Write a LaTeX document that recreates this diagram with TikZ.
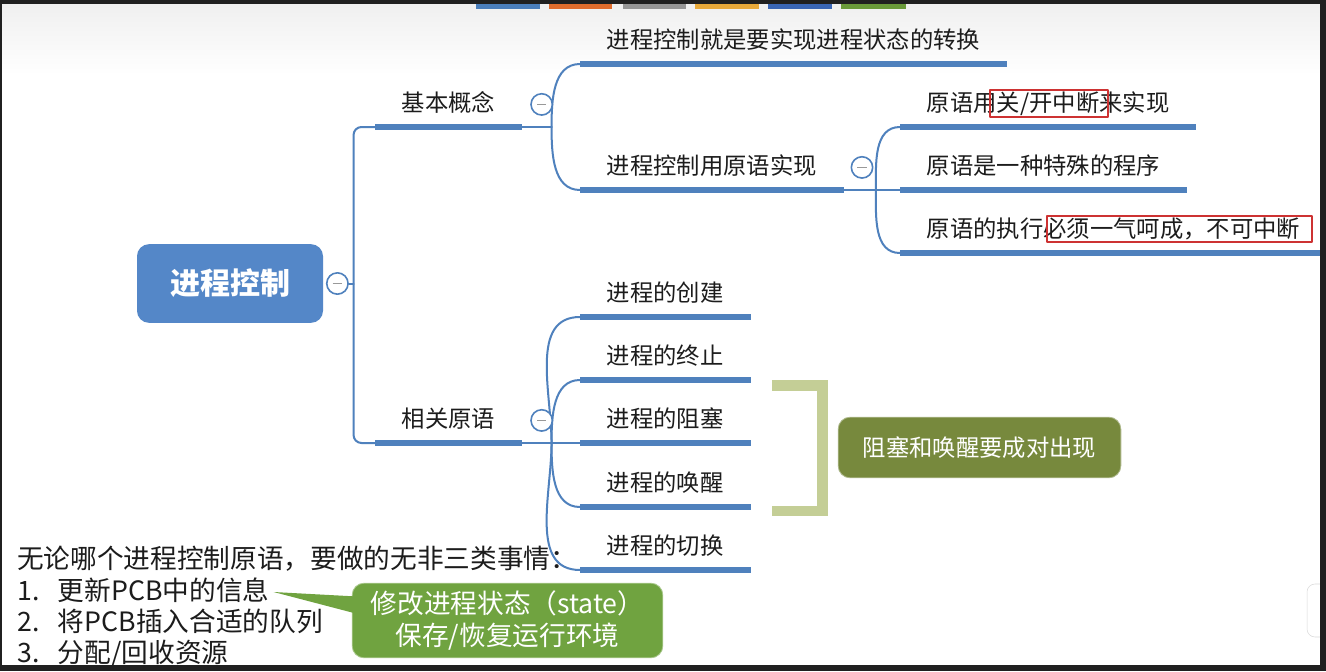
\documentclass[tikz,border=0pt]{standalone}
\usepackage{fontspec}
\setmainfont{Noto Sans CJK SC}
\usetikzlibrary{positioning}
\definecolor{mapblue}{RGB}{79,129,189}
\definecolor{rootblue}{RGB}{84,135,200}
\definecolor{braceolive}{RGB}{196,206,150}
\definecolor{noteolive}{RGB}{119,137,61}
\definecolor{callgreen}{RGB}{112,163,64}
\definecolor{framedark}{RGB}{32,32,32}
\definecolor{ink}{RGB}{28,28,28}
\definecolor{markred}{RGB}{205,50,50}
\definecolor{tabblue}{RGB}{74,126,187}
\definecolor{taborange}{RGB}{224,108,44}
\definecolor{tabgray}{RGB}{150,150,150}
\definecolor{tabyellow}{RGB}{232,169,58}
\definecolor{tabnavy}{RGB}{58,102,181}
\definecolor{tabgreen}{RGB}{106,154,58}
\begin{document}
\begin{tikzpicture}[x=0.75pt, y=-0.75pt, line join=round, line cap=round,
	topic/.style={anchor=south west, inner xsep=20pt, inner ysep=8pt, text height=14pt, text depth=3.5pt, text=ink, font=\fontsize{17.5}{21}\selectfont},
	uline/.style={mapblue, line width=5pt, line cap=butt},
	link/.style={mapblue, line width=1.5pt},
	fold/.style={circle, draw=mapblue, line width=1.2pt, fill=white, minimum size=16pt, inner sep=0pt,
		path picture={\draw[gray!80, line width=1.2pt, line cap=butt] ([xshift=-3.5pt]path picture bounding box.center) -- ([xshift=3.5pt]path picture bounding box.center);}},
	root/.style={fill=rootblue, rounded corners=9pt, minimum width=139.5pt, minimum height=59pt, text=white, font=\fontsize{22.5}{27}\selectfont\bfseries},
	note/.style={fill=noteolive, draw=noteolive!60!white, line width=0.6pt, rounded corners=9pt, minimum width=212pt, minimum height=45.5pt, text=white, font=\fontsize{17.5}{21}\selectfont},
	callout/.style={fill=callgreen, draw=callgreen!60!white, line width=0.6pt, rounded corners=9pt, minimum width=233pt, minimum height=56pt, align=center, text=white, font=\fontsize{20}{23.5}\selectfont},
	say/.style={anchor=west, inner sep=0pt, text height=16pt, text depth=4pt, text=ink, font=\fontsize{20}{24}\selectfont},
	brace/.style={braceolive, line width=8pt, line cap=butt, line join=miter}]
	% screen frame
	\useasboundingbox (0,0) rectangle (1326,671);
	\fill[framedark] (0,0) rectangle (1326,671);
	\fill[white] (2,4) rectangle (1320,665);
	\shade[top color=gray!12, bottom color=white] (2,4) rectangle (1320,75);
	\foreach \xa/\xb/\col in {476/540/tabblue, 549/612/taborange, 623/686/tabgray, 695/759/tabyellow, 768/832/tabnavy, 841/906/tabgreen}
		\fill[\col] (\xa,4) rectangle (\xb,9);
	\draw[gray!30, fill=white, rounded corners=6pt] (1307,584) rectangle (1334,637);
	
	\node[root] (root) at (230,283.5) {进程控制};
	\node[fold, right=2pt of root] (f0) {};
	\coordinate[right=3.5pt of f0] (j0);
	
	\node[topic] (k1) at (375,127) {基本概念};
	\node[topic] (k2) at (375,443) {相关原语};
	
	\node[topic] (a1) at (580,64) {进程控制就是要实现进程状态的转换};
	\node[topic] (a2) at (580,190) {进程控制用原语实现};
	
	\node[topic] (b1) at (900,127) {原语用关/开中断来实现};
	\node[topic] (b2) at (900,190) {原语是一种特殊的程序};
	\node[topic] (b3) at (900,253) {原语的执行必须一气呵成，不可中断};
	
	\foreach \name/\y/\txt in {c1/317/进程的创建, c2/380/进程的终止, c3/443/进程的阻塞, c4/507/进程的唤醒, c5/570/进程的切换}
		\node[topic] (\name) at (580,\y) {\txt};
	
	\coordinate[right=22pt of k1.south east] (j1);
	\coordinate[right=24pt of a2.south east] (j2);
	\coordinate[right=22pt of k2.south east] (j3);
	
	% connectors
	\draw[link, rounded corners=6pt] (k1.south west) -| (j0) |- (k2.south west);
	\draw[link] (f0.east) -- (j0);
	\draw[link] (k1.south east) -- (j1);
	\draw[link] (j1) to[out=90, in=180] (a1.south west);
	\draw[link] (j1) to[out=-90, in=180] (a2.south west);
	\draw[link] (a2.south east) -- (b2.south west);
	\draw[link] (j2) to[out=90, in=180] (b1.south west);
	\draw[link] (j2) to[out=-90, in=180] (b3.south west);
	\draw[link] (k2.south east) -- (c3.south west);
	\foreach \name/\dir in {c1/90, c2/90, c4/-90, c5/-90}
		\draw[link] (j3) to[out=\dir, in=180] (\name.south west);
	\foreach \name in {k1,k2,a1,a2,b1,b2,b3,c1,c2,c3,c4,c5}
		\draw[uline] (\name.south west) -- (\name.south east);
	
	\node[fold, right=6pt of k1] (f1) {};
	\node[fold, right=6pt of k2] (f3) {};
	\node[fold, right=5pt of a2] (f2) {};
	
	% marks on the primitives
	\draw[markred, line width=0.8pt] (990,90) rectangle (1108,117);
	\draw[markred, line width=0.8pt] (1047,216) rectangle (1312,242);
	
	% block / wakeup bracket
	\coordinate (bt) at ([xshift=16pt,yshift=-4pt]c2.south east);
	\coordinate (bb) at ([xshift=16pt,yshift=-3pt]c4.south east);
	\coordinate (bm) at ([xshift=38pt]bt);
	\node[note] (n1) at (979.5,447.5) {阻塞和唤醒要成对出现};
	\draw[brace] (bt) -- (bm) |- (bb);
	\draw[brace] (n1.west -| bm) -- ([xshift=-7pt]n1.west);
	
	% notes at the bottom
	\node[say] (s0) at (17,560) {无论哪个进程控制原语，要做的无非三类事情：};
	\node[say] (s1) at (17,592) {\makebox[30.5pt][l]{1.}更新PCB中的信息};
	\node[say] (s2) at (17,623) {\makebox[30.5pt][l]{2.}将PCB插入合适的队列};
	\node[say] (s3) at (17,654) {\makebox[30.5pt][l]{3.}分配/回收资源};
	
	\node[callout] (m1) at (507.5,620.5) {修改进程状态（state）\\保存/恢复运行环境};
	\coordinate (tip) at ([xshift=3pt]s1.east);
	\fill[callgreen] (tip) -- ([xshift=4pt,yshift=18pt]m1.west) -- ([xshift=4pt,yshift=5pt]m1.west) -- cycle;
	
	\fill[framedark] (0,665) rectangle (1326,671);
	\fill[framedark] (1320,0) rectangle (1326,671);
\end{tikzpicture}
\end{document}
